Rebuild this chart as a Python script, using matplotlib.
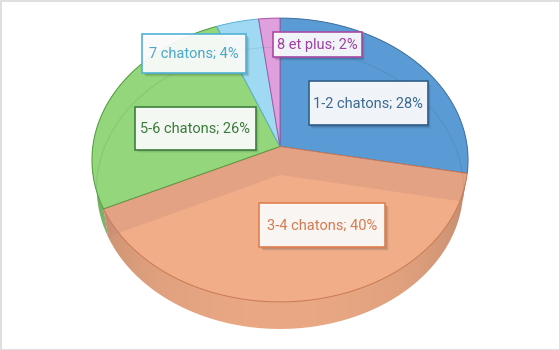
import numpy as np
import matplotlib
matplotlib.use("Agg")
import matplotlib.pyplot as plt
from matplotlib.patches import Polygon, Rectangle
import matplotlib.colors as mcolors

# ---- data ----
categories = ["1-2 chatons", "3-4 chatons", "5-6 chatons", "7 chatons", "8 et plus"]
shares = [28, 40, 26, 4, 2]
labels = [f"{c}; {v}%" for c, v in zip(categories, shares)]

# ---- styles ----
colors = ["#5B9BD5", "#F1AD88", "#93D67B", "#A0DAF2", "#DFA0DD"]
edge_colors = ["#41719C", "#C9764F", "#4E9A3A", "#5AB4D6", "#A856A6"]
text_colors = ["#3B6B93", "#D47B50", "#3C7A3C", "#4AA8C9", "#A23FA0"]
box_edges = ["#2F5F8C", "#E08050", "#3E7F3E", "#4FB3D6", "#A84CA6"]
label_pos = [(368, 103), (322, 225), (195, 128), (194, 53.5), (317, 44.5)]
box_size = [(119, 44), (126, 44), (121, 43), (104, 39), (89, 25)]

plt.rcParams['font.family'] = ['Roboto', 'DejaVu Sans']

# ---- perspective geometry ----
CX, CY = 280.0, 146.5
ALPHA = np.deg2rad(48.7)
D, F, H = 6.94, 1299.0, 0.236
S, C = np.sin(ALPHA), np.cos(ALPHA)


def project(theta, depth=0.0, r=1.0):
    theta = np.asarray(theta, dtype=float)
    p = r * np.sin(theta)
    q = r * np.cos(theta)
    yw = -depth
    yc = yw * C + q * S
    zc = D + q * C - yw * S
    return CX + F * p / zc, CY - F * yc / zc


fig = plt.figure(figsize=(5.6, 3.5), dpi=100)
ax = fig.add_axes([0, 0, 1, 1])
ax.set_xlim(0, 560)
ax.set_ylim(350, 0)
ax.axis('off')
fig.patch.set_facecolor('white')

cum = np.concatenate([[0], np.cumsum(shares)]) / float(sum(shares)) * 2 * np.pi

# horizontal shading profile for the side wall
xs_px = np.arange(0, 560) + 0.5
u = np.clip((xs_px - CX) / 190.0, -1, 1)
front = np.sqrt(np.clip(1 - u ** 2, 0, 1))
fac = 0.68 + 0.29 * front ** 0.6

# side walls
order = sorted(range(len(shares)), key=lambda i: -np.cos(0.5 * (cum[i] + cum[i + 1])))
for i in order:
    a0, a1 = cum[i], cum[i + 1]
    t = np.linspace(a0, a1, max(4, int(np.degrees(a1 - a0)) * 2))
    x1, y1 = project(t, 0)
    x2, y2 = project(t[::-1], H)
    poly = Polygon(np.column_stack([np.r_[x1, x2], np.r_[y1, y2]]), closed=True,
                   facecolor='none', edgecolor='none', zorder=1)
    ax.add_patch(poly)
    rgb = np.array(mcolors.to_rgb(colors[i]))
    img = np.clip(fac[None, :, None] * rgb[None, None, :], 0, 1)
    im = ax.imshow(img, extent=(0, 560, 350, 0), aspect='auto', zorder=1,
                   interpolation='bilinear')
    im.set_clip_path(poly)

# top faces
for i in range(len(shares)):
    a0, a1 = cum[i], cum[i + 1]
    t = np.linspace(a0, a1, max(3, int(np.degrees(a1 - a0)) * 2))
    x, y = project(t, 0)
    ax.add_patch(Polygon(np.column_stack([np.r_[CX, x], np.r_[CY, y]]), closed=True,
                         facecolor=colors[i], edgecolor=edge_colors[i], lw=0.7, zorder=2))

# faint see-through bottom rim
th = np.linspace(-np.pi * 0.53, np.pi * 0.53, 200)
bx, by = project(th, H)
ax.plot(bx, by, color='#000000', alpha=0.08, lw=0.7, zorder=3)

# radial walls of the front slice seen through its top
cx0, cy0 = project([0.0], 0, r=0.0)
cx1, cy1 = project([0.0], H, r=0.0)
for a in (cum[1], cum[2]):
    xt, yt = project([a], 0)
    xb, yb = project([a], H)
    poly = np.array([[cx0[0], cy0[0]], [xt[0], yt[0]], [xb[0], yb[0]], [cx1[0], cy1[0]]])
    ax.add_patch(Polygon(poly, closed=True, facecolor='#BD8578', alpha=0.25,
                         edgecolor='none', zorder=3))

# labels
for i, lab in enumerate(labels):
    x0, y0 = label_pos[i]
    w, h = box_size[i]
    for k, al in enumerate([0.10, 0.07, 0.04]):
        off = 1.5 + k
        ax.add_patch(Rectangle((x0 - w / 2 + off, y0 - h / 2 + off), w, h,
                               facecolor='black', alpha=al, edgecolor='none', zorder=4))
    ax.add_patch(Rectangle((x0 - w / 2, y0 - h / 2), w, h, facecolor='white', alpha=0.92,
                           edgecolor='none', zorder=5))
    ax.add_patch(Rectangle((x0 - w / 2, y0 - h / 2), w, h, facecolor='none',
                           edgecolor=box_edges[i], lw=1.2, zorder=6))
    ax.text(x0, y0 + 0.5, lab, ha='center', va='center', fontsize=10.5,
            color=text_colors[i], zorder=7)

# chart border
ax.add_patch(Rectangle((0.5, 0.5), 559, 349, fill=False, edgecolor='#D9D9D9', lw=1.2, zorder=8))

fig.savefig('out.png', dpi=100)
